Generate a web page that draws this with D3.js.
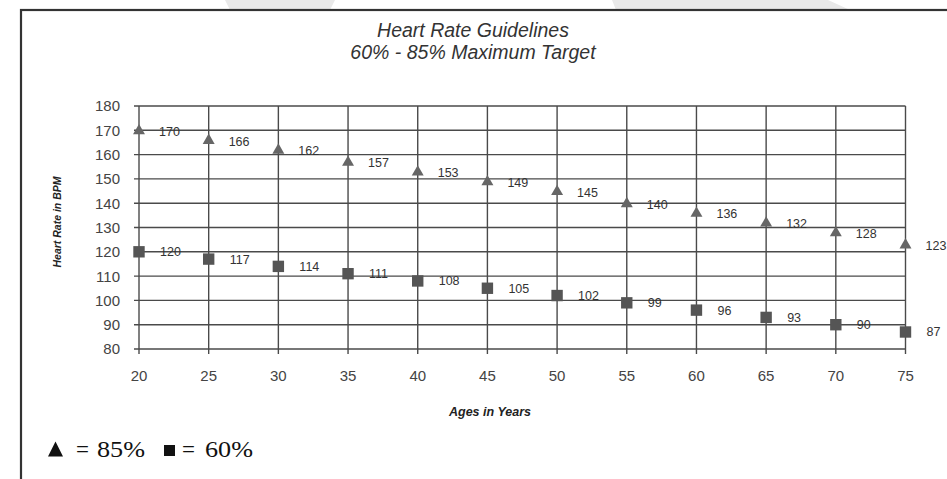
<!DOCTYPE html>
<html>
<head>
<meta charset="utf-8">
<script src="https://cdn.jsdelivr.net/npm/d3@7"></script>
<style>
  html, body { margin: 0; padding: 0; background: #fff; }
  svg { display: block; }
  text { -webkit-font-smoothing: antialiased; }
</style>
</head>
<body>
<svg id="chart" width="947" height="479"></svg>
<script>
// ---- data ----
const ages = [20, 25, 30, 35, 40, 45, 50, 55, 60, 65, 70, 75];
const max85 = [170, 166, 162, 157, 153, 149, 145, 140, 136, 132, 128, 123];
const max60 = [120, 117, 114, 111, 108, 105, 102, 99, 96, 93, 90, 87];
const yTicks = [80, 90, 100, 110, 120, 130, 140, 150, 160, 170, 180];
const titleLines = ["Heart Rate Guidelines", "60% - 85% Maximum Target"];
const xTitle = "Ages in Years";
const yTitle = "Heart Rate in BPM";
const legendTexts = ["85%", "60%"];

const svg = d3.select("#chart");
const sans = "Liberation Sans, Arial, sans-serif";

// faint background shapes at the top edge
svg.append("path").attr("d", "M225,0 L335,0 L330,10 L230,10 Z").attr("fill", "#e9e9e9");
svg.append("path").attr("d", "M612,0 L828,0 L850,10 L616,10 Z").attr("fill", "#e9e9e9");

// frame
svg.append("rect").attr("x", 21).attr("y", 10).attr("width", 960).attr("height", 500)
  .attr("fill", "#fff").attr("stroke", "#333").attr("stroke-width", 2.2);

const x = d3.scaleLinear().domain([20, 75]).range([139, 905.5]);
const y = d3.scaleLinear().domain([80, 180]).range([349, 106]);

const grid = "#4a4a4a";
svg.append("g").selectAll("line").data(yTicks).join("line")
  .attr("x1", x(20) - 5).attr("x2", x(75))
  .attr("y1", d => y(d)).attr("y2", d => y(d))
  .attr("stroke", grid).attr("stroke-width", 1.4);
svg.append("g").selectAll("line").data(ages).join("line")
  .attr("x1", d => x(d)).attr("x2", d => x(d))
  .attr("y1", y(180)).attr("y2", y(80) + 5)
  .attr("stroke", grid).attr("stroke-width", 1.4);

// tick labels
svg.append("g").selectAll("text").data(yTicks).join("text")
  .attr("x", x(20) - 19).attr("y", d => y(d)).attr("dy", "0.36em")
  .attr("text-anchor", "end")
  .attr("font-family", sans).attr("font-size", 15)
  .attr("fill", "#444").text(d => d);
svg.append("g").selectAll("text").data(ages).join("text")
  .attr("x", d => x(d)).attr("y", 376).attr("dy", "0.36em")
  .attr("text-anchor", "middle")
  .attr("font-family", sans).attr("font-size", 15)
  .attr("fill", "#444").text(d => d);

// titles
svg.append("g").selectAll("text").data(titleLines).join("text")
  .attr("x", 473).attr("y", (d, i) => 37 + i * 22)
  .attr("text-anchor", "middle")
  .attr("font-family", sans).attr("font-size", 19.5)
  .attr("font-style", "italic").attr("fill", "#333").text(d => d);

svg.append("text").attr("x", 490).attr("y", 416).attr("text-anchor", "middle")
  .attr("font-family", sans).attr("font-size", 12.5)
  .attr("font-weight", "bold").attr("font-style", "italic").attr("fill", "#222").text(xTitle);

svg.append("text").attr("transform", `translate(61,222) rotate(-90)`)
  .attr("text-anchor", "middle")
  .attr("font-family", sans).attr("font-size", 10.5)
  .attr("font-weight", "bold").attr("font-style", "italic").attr("fill", "#222").text(yTitle);

// series
const tri = d3.symbol().type(d3.symbolTriangle).size(62);
const sq = d3.symbol().type(d3.symbolSquare).size(130);

const s85 = ages.map((a, i) => ({ a, v: max85[i] }));
const s60 = ages.map((a, i) => ({ a, v: max60[i] }));

svg.append("g").selectAll("path").data(s85).join("path")
  .attr("d", tri).attr("transform", d => `translate(${x(d.a)},${y(d.v) + 0.5})`)
  .attr("fill", "#666");
svg.append("g").selectAll("path").data(s60).join("path")
  .attr("d", sq).attr("transform", d => `translate(${x(d.a)},${y(d.v)})`)
  .attr("fill", "#555");

svg.append("g").selectAll("text").data(s85).join("text")
  .attr("x", d => x(d.a) + 20).attr("y", d => y(d.v) + 1).attr("dy", "0.36em")
  .attr("font-family", sans).attr("font-size", 12.5).attr("fill", "#333").text(d => d.v);
svg.append("g").selectAll("text").data(s60).join("text")
  .attr("x", d => x(d.a) + 21).attr("y", d => y(d.v)).attr("dy", "0.36em")
  .attr("font-family", sans).attr("font-size", 12.5).attr("fill", "#333").text(d => d.v);

// legend
const lg = svg.append("g").attr("font-family", "Liberation Serif, Times New Roman, serif")
  .attr("font-size", 23).attr("fill", "#111");
lg.append("path").attr("d", "M48,456.5 L55.5,441.5 L63,456.5 Z").attr("fill", "#111");
lg.append("text").attr("x", 76).attr("y", 456.5).text("=");
lg.append("text").attr("x", 97).attr("y", 456.5).attr("textLength", 48)
  .attr("lengthAdjust", "spacingAndGlyphs").text(legendTexts[0]);
lg.append("rect").attr("x", 164).attr("y", 445).attr("width", 11).attr("height", 11).attr("fill", "#111");
lg.append("text").attr("x", 182).attr("y", 456.5).text("=");
lg.append("text").attr("x", 205).attr("y", 456.5).attr("textLength", 48)
  .attr("lengthAdjust", "spacingAndGlyphs").text(legendTexts[1]);
</script>
</body>
</html>
